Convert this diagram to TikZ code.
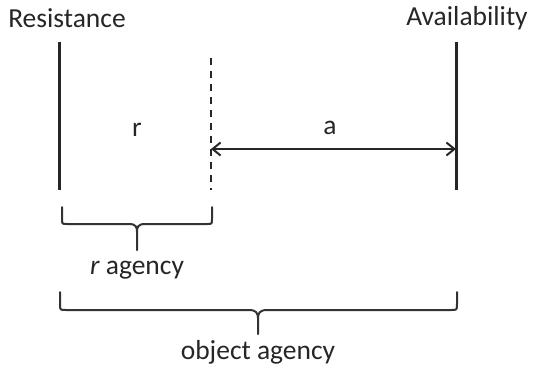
\documentclass[tikz,border=0pt]{standalone}
\usepackage{fontspec}
\setmainfont{Carlito}
\usetikzlibrary{arrows.meta}
\begin{document}
\begin{tikzpicture}[x=1pt,y=-1pt,
  lbl/.style={font=\fontsize{27.5}{30}\selectfont, text=black!85, inner sep=0pt},
  bar/.style={line width=3pt, draw=black!85},
  limit/.style={line width=2pt, draw=black!85, dash pattern=on 7pt off 6pt},
  span/.style={line width=2pt, draw=black!85, {Straight Barb[length=8pt,width=13pt]}-{Straight Barb[length=8pt,width=13pt]}},
  brace/.style={line width=2pt, draw=black!80, line join=round, line cap=round}]
\useasboundingbox (0,0) rectangle (533,368);

% boundary lines
\coordinate (rtop) at (59,42);
\coordinate (rbot) at (59,190);
\coordinate (dtop) at (211,58);
\coordinate (dbot) at (211,190);
\coordinate (atop) at (456,42);
\coordinate (abot) at (456,190);
\draw[bar] (rtop) -- (rbot);
\draw[limit] (dtop) -- (dbot);
\draw[bar] (atop) -- (abot);

% headings
\node[lbl] (res) at (67,18) {Resistance};
\node[lbl] (avail) at (467,18) {Availability};

% span labels
\node[lbl] (rlab) at (137,130) {r};
\node[lbl] (alab) at (330,128) {a};

% distance a
\coordinate (aL) at (211,149);
\coordinate (aR) at (456,149);
\draw[span] (aL) -- (aR);

% brace for r agency
\draw[brace] (62,207) -- (62,219) .. controls (62,224) .. (67,224)
  -- (129,224) .. controls (136,224) and (137,227) .. (137,232) -- (137,250);
\draw[brace] (212,207) -- (212,219) .. controls (212,224) .. (207,224)
  -- (145,224) .. controls (138,224) and (137,227) .. (137,232);
\node[lbl] (ragency) at (137,270) {\textit{r} agency};

% brace for object agency
\draw[brace] (60,292) -- (60,304) .. controls (60,310) .. (66,310)
  -- (249,310) .. controls (256,310) and (258,313) .. (258,318) -- (258,334);
\draw[brace] (457,292) -- (457,304) .. controls (457,310) .. (451,310)
  -- (267,310) .. controls (260,310) and (258,313) .. (258,318);
\node[lbl] (oagency) at (258,352) {object agency};
\end{tikzpicture}
\end{document}
